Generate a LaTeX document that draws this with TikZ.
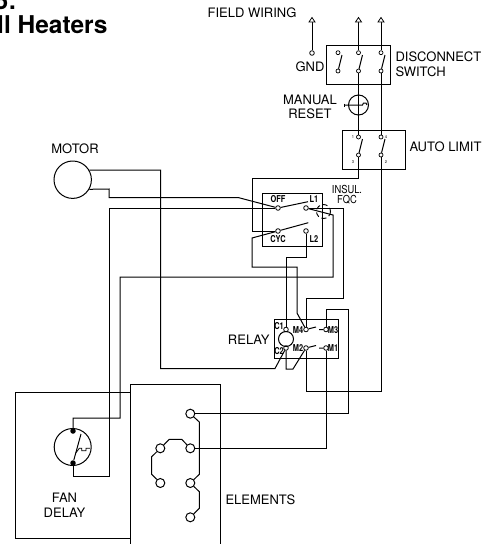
\documentclass[tikz,border=0pt]{standalone}
\usepackage{fontspec}
\setmainfont{TeX Gyre Heros}
\begin{document}
\begin{tikzpicture}[x=1pt,y=-1pt,line width=1pt,black,
  box/.style={draw,line width=1pt},
  term/.style={circle,draw,fill=white,inner sep=0pt,minimum size=4.6pt,line width=0.8pt},
  smallterm/.style={circle,draw,fill=white,inner sep=0pt,minimum size=4pt,line width=0.7pt},
  elem/.style={circle,draw,fill=white,inner sep=0pt,minimum size=9pt,line width=1pt},
  dotterm/.style={circle,fill,inner sep=0pt,minimum size=5.5pt},
  lab/.style={font=\fontsize{13}{14}\selectfont,inner sep=0pt,text=black},
  mini/.style={font=\fontsize{9.5}{10}\bfseries\selectfont,inner sep=0pt,xscale=.78,text=black},
  fqclab/.style={font=\fontsize{11}{12}\selectfont,inner sep=0pt,xscale=.85,text=black},
  tiny/.style={font=\fontsize{4}{4}\selectfont,inner sep=0pt},
  title/.style={font=\fontsize{24.5}{26}\bfseries\selectfont,inner sep=0pt,text=black}]
\useasboundingbox (0,0) rectangle (498,544);
\clip (0,0) rectangle (498,544);
% Title
\node[title,anchor=base east] (t1) at (17,9) {5:};
\node[title,anchor=base east] (t2) at (108,33) {ll Heaters};
% Boxes
\draw[box] (326.7,45) rectangle (390,84);
\draw[box] (342,130) rectangle (405,169);
\draw[box] (262,193) rectangle (322,246);
\draw[box] (274,319) rectangle (338,358);
\draw[box] (15,392.7) rectangle (130,538);
\draw[box] (220,560) -- (220,384) -- (130,384) -- (130,560);
% Terminals
\node[term] (g1) at (312,53) {};
\node[smallterm] (d1t) at (338,52.7) {};
\node[smallterm] (d1b) at (338,71) {};
\node[smallterm] (d2t) at (358.5,52.7) {};
\node[smallterm] (d2b) at (358.5,71) {};
\node[smallterm] (d3t) at (381,52.7) {};
\node[smallterm] (d3b) at (381,71) {};
\node[smallterm] (a1t) at (358.5,137) {};
\node[smallterm] (a1b) at (358.5,155) {};
\node[smallterm] (a2t) at (381,137) {};
\node[smallterm] (a2b) at (381,155) {};
\node[term] (off) at (278,208) {};
\node[term] (lone) at (306,208) {};
\node[term] (cyc) at (278,231) {};
\node[term] (ltwo) at (306,231) {};
\node[term] (c1) at (286,329.5) {};
\node[term] (c2) at (286,348) {};
\node[term] (m4) at (306,329.5) {};
\node[term] (m3) at (326,329.5) {};
\node[term] (m2) at (306,348) {};
\node[term] (m1) at (326,348) {};
\node[circle,draw,inner sep=0pt,minimum size=15pt] (coil) at (286,339) {};
\node[circle,draw,inner sep=0pt,minimum size=37.4pt,line width=1pt] (motor) at (72.7,179.7) {};
\node[circle,draw,inner sep=0pt,minimum size=37pt,line width=1pt] (fan) at (72.7,447) {};
\node[dotterm] (fant) at (73,431) {};
\node[dotterm] (fanb) at (73,463) {};
\node[circle,draw,inner sep=0pt,minimum size=20pt,line width=1pt] (reset) at (358.5,105) {};
\node[elem] (ea) at (190.3,413.7) {};
\node[elem] (eb) at (190.3,448.3) {};
\node[elem] (ec) at (160.3,448.3) {};
\node[elem] (ed) at (160.3,483) {};
\node[elem] (ee) at (190.3,483) {};
\node[elem] (ef) at (190.3,517.3) {};
% Field wiring arrows
\coordinate (ar1) at (312,22);
\coordinate (ar2) at (358.5,22);
\coordinate (ar3) at (381,22);
\draw (ar1) -- (g1);
\draw (ar2) -- (d2t);
\draw (ar3) -- (d3t);
\foreach \c in {ar1,ar2,ar3}
  \draw[fill=white,line width=.8pt] (\c) ++(-3,0) -- ++(3,-4.5) -- ++(3,4.5) -- cycle;
% Vertical wires
\draw (d2b) -- (a1t);
\draw (d3b) -- (a2t);
% Blades
\draw (d1b) -- (342,55);
\draw (d2b) -- (362.5,55);
\draw (d3b) -- (385,55);
\draw (a1b) -- (362.5,139);
\draw (a2b) -- (385,139);
% Manual reset symbol
\draw (344,105) -- (362.5,105) -- (363.5,103) -- (366,103) -- (367,105);
\draw[line width=.8pt] (344,103.5) -- (344,106.5);
% Auto limit to thermostat switch
\draw (a1b) -- (358.5,178) -- (252,178) -- (252,231) -- (cyc);
\draw (a2b) -- (381,391) -- (306,391) -- (m2);
% Thermostat switch
\draw (off) -- (308,201.7);
\draw (cyc) -- (308.3,222.7);
\draw (motor.30) -- (160.7,170) -- (160.7,368.5) -- (275,368.5) -- (c2);
\draw (motor.-30) -- (109,189) -- (109,197.5) -- (238,197.5) -- (off);
\draw (off) -- (109,208) -- (109,476) -- (73,476) -- (fanb);
\draw (lone) -- (343,208) -- (343,298) -- (306,298) -- (m4);
\draw (lone) -- (333,215) -- (333,277) -- (120,277) -- (120,418) -- (73,418) -- (fant);
\draw (cyc) -- (252,238) -- (252,267) -- (297,267) -- (297,313) -- (m4);
\draw (ltwo) -- (306,257) -- (286,257) -- (c1);
\draw (c2) -- (286,369) -- (293,369) -- (m2);
% FQC
\draw[dash pattern=on 5pt off 3pt,line width=.9pt] (323.5,211.5) circle (7);
\draw[line width=.8pt] (322,205) -- (322,219);
% Relay
\draw (m4) -- (316,327) (319,329.5) -- (m3);
\draw (m2) -- (316,345.5) (319,348) -- (m1);
\draw (m3) -- (326,309) -- (348.7,309) -- (348.7,413.7) -- (ea);
\draw (m1) -- (326,448.3) -- (eb);
% Fan delay
\draw (fanb) -- (81,434);
\draw[line width=.8pt] (76,452.7) -- (79.3,448.3) -- (81.7,448.3) -- (81.7,450.7) -- (86,450.7) -- (86,448.3) -- (90,448.3);
% Elements
\draw (ea) -- (199.3,422) -- (199.3,474.3) -- (ee);
\draw (ee) -- (199.3,491.7) -- (199.3,508.3) -- (ef);
\draw (ec) -- (169.3,439.3) -- (181.7,439.3) -- (eb);
\draw (ec) -- (151.7,456.7) -- (151.7,474.3) -- (ed);
% Labels
\node[lab] (lf) at (252,13) {FIELD WIRING};
\node[lab,anchor=east] (lg) at (325,67) {GND};
\node[lab,anchor=west] (ld1) at (395,57) {DISCONNECT};
\node[lab,anchor=west] (ld2) at (395,72) {SWITCH};
\node[lab] (lm1) at (310,99.5) {MANUAL};
\node[lab] (lm2) at (310,114) {RESET};
\node[lab,anchor=west] (la) at (409,147) {AUTO LIMIT};
\node[lab] (lmo) at (75,149) {MOTOR};
\node[lab,anchor=east] (lr) at (270,340) {RELAY};
\node[lab] (lf1) at (64.5,498) {FAN};
\node[lab] (lf2) at (64.5,513) {DELAY};
\node[lab,anchor=west] (le) at (225,500) {ELEMENTS};
\node[fqclab] (li1) at (347,189.5) {INSUL.};
\node[fqclab] (li2) at (347,200) {FQC};
\node[mini] (tof) at (278,199) {OFF};
\node[mini] (tl1) at (314,199) {L1};
\node[mini] (tcy) at (278,239.5) {CYC};
\node[mini] (tl2) at (314,239.5) {L2};
\node[mini] (tc1) at (279,326) {C1};
\node[mini] (tc2) at (279,351.5) {C2};
\node[mini] (tm4) at (298,330) {M4};
\node[mini] (tm2) at (298,348.5) {M2};
\node[mini] (tm3) at (333,330) {M3};
\node[mini] (tm1) at (333,348.5) {M1};
\node[tiny] (n1) at (353,137) {1};
\node[tiny] (n4) at (386,137) {4};
\node[tiny] (n3) at (353,162) {3};
\node[tiny] (n2) at (386,162) {2};
\end{tikzpicture}
\end{document}
